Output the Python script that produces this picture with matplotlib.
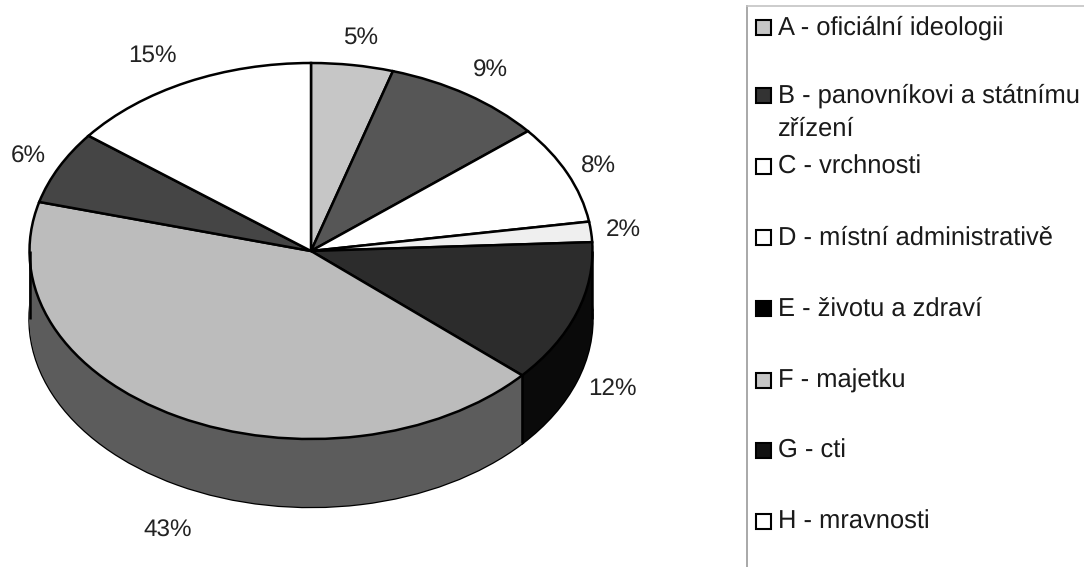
import matplotlib
matplotlib.use("Agg")
import matplotlib.pyplot as plt
import numpy as np
from matplotlib.patches import Rectangle

plt.rcParams["font.family"] = ["Liberation Sans", "DejaVu Sans"]
plt.rcParams["text.hinting"] = "no_hinting"

W, H = 1084, 567
CX, CY = 311, 251
RX, RY = 281.5, 188
DEPTH = 68

values = [4.7, 9.3, 8.5, 1.75, 12.25, 42.7, 6.3, 14.5]
percent_labels = [5, 9, 8, 2, 12, 43, 6, 15]
top_colors = ["#c6c6c6", "#565656", "#ffffff", "#efefef", "#2c2c2c", "#bcbcbc", "#454545", "#ffffff"]
side_colors = ["#6a6a6a", "#222222", "#777777", "#777777", "#0a0a0a", "#5c5c5c", "#1c1c1c", "#777777"]
legend_labels = [
    "A - oficiální ideologii",
    "B - panovníkovi a státnímu\nzřízení",
    "C - vrchnosti",
    "D - místní administrativě",
    "E - životu a zdraví",
    "F - majetku",
    "G - cti",
    "H - mravnosti",
]
swatch_fill = ["#c6c6c6", "#333333", "#ffffff", "#ffffff", "#000000", "#c6c6c6", "#111111", "#ffffff"]

# pixel positions of the percent labels and legend rows
label_xy = [(361, 38), (490, 71), (598, 167), (623, 230), (612, 389), (168, 531), (28, 157), (152, 56)]
legend_y = [28, 96, 167, 238, 309, 381, 451, 522]

fig = plt.figure(figsize=(W / 100, H / 100), dpi=100, facecolor="white")
ax = fig.add_axes([0, 0, 1, 1])

d = DEPTH / RY
outline = {"edgecolor": "black", "linewidth": 1.8}

# extruded side: bottom outline first, then solid layers up to the top face
ax.pie(values, colors=side_colors, startangle=90, counterclock=False, center=(0, -d),
       wedgeprops=outline)
for off in np.linspace(d, 0, DEPTH + 1)[:-1]:
    ax.pie(values, colors=side_colors, startangle=90, counterclock=False, center=(0, -off),
           wedgeprops={"edgecolor": "none", "linewidth": 0})

wedges, _ = ax.pie(values, colors=top_colors, startangle=90, counterclock=False,
                   wedgeprops=outline)

# vertical edges: both silhouette sides and the E/F boundary
edge_angle = np.deg2rad(wedges[4].theta1)
for x, y in [(1, 0), (-1, 0), (np.cos(edge_angle), np.sin(edge_angle))]:
    ax.plot([x, x], [y, y - d], color="black", lw=1.8, solid_capstyle="butt")

ax.set_aspect("auto")
ax.set_xlim(-CX / RX, (W - CX) / RX)
ax.set_ylim(-(H - CY) / RY, CY / RY)
ax.axis("off")

# overlay in pixel coordinates for labels and the legend box
ov = fig.add_axes([0, 0, 1, 1])
ov.set_xlim(0, W)
ov.set_ylim(H, 0)
ov.axis("off")
ov.patch.set_alpha(0)

for v, (x, y) in zip(percent_labels, label_xy):
    ov.text(x, y, f"{v}%", fontsize=17.5, ha="center", va="center", color="#222222")

ov.plot([747, 747], [6, H], color="#a8a8a8", lw=1.4)
ov.plot([747, W], [6, 6], color="#c4c4c4", lw=1.2)

for label, fill, y in zip(legend_labels, swatch_fill, legend_y):
    ov.add_patch(Rectangle((756, y - 8), 15, 15, facecolor=fill, edgecolor="black", lw=1.5))
    first, *rest = label.split("\n")
    ov.text(778, y, first, fontsize=18.4, ha="left", va="center", color="#1a1a1a")
    for line in rest:
        ov.text(778, y + 33, line, fontsize=18.4, ha="left", va="center", color="#1a1a1a")

fig.savefig("out.png", dpi=100)
plt.close(fig)
